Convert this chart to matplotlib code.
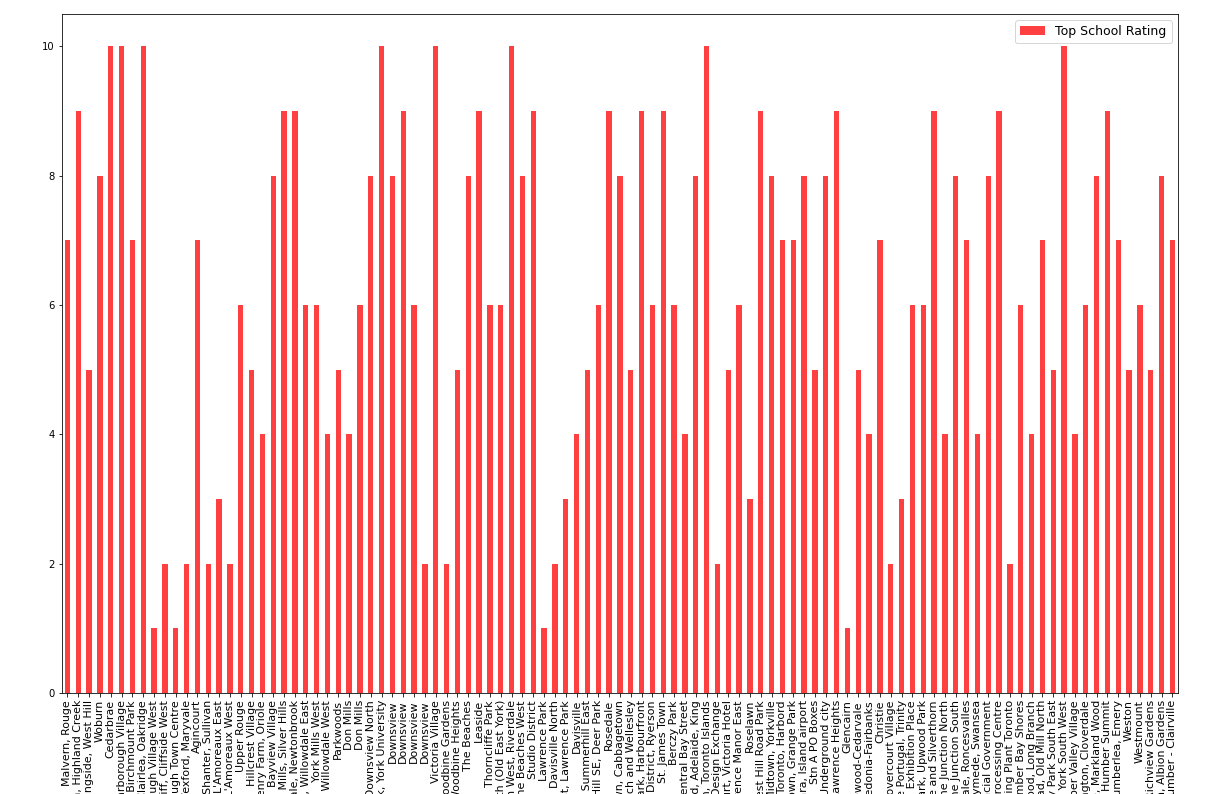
import pandas as pd
from matplotlib import pyplot as plt

# Toronto neighbourhoods (one per postal code) and their top school rating
neighborhoods = [
    'Malvern, Rouge', 'Rouge Hill, Port Union, Highland Creek', 'Guildwood, Morningside, West Hill',
    'Woburn', 'Cedarbrae', 'Scarborough Village', 'Kennedy Park, Ionview, East Birchmount Park',
    'Golden Mile, Clairlea, Oakridge', 'Cliffside, Cliffcrest, Scarborough Village West',
    'Birch Cliff, Cliffside West', 'Dorset Park, Wexford Heights, Scarborough Town Centre',
    'Wexford, Maryvale', 'Agincourt', "Clarks Corners, Tam O'Shanter, Sullivan",
    "Milliken, Agincourt North, Steeles East, L'Amoreaux East", "Steeles West, L'Amoreaux West",
    'Upper Rouge', 'Hillcrest Village', 'Fairview, Henry Farm, Oriole', 'Bayview Village',
    'York Mills, Silver Hills', 'Willowdale, Newtonbrook', 'Willowdale, Willowdale East',
    'York Mills West', 'Willowdale, Willowdale West', 'Parkwoods', 'Don Mills', 'Don Mills',
    'Bathurst Manor, Wilson Heights, Downsview North', 'Northwood Park, York University',
    'Downsview', 'Downsview', 'Downsview', 'Downsview', 'Victoria Village',
    'Parkview Hill, Woodbine Gardens', 'Woodbine Heights', 'The Beaches', 'Leaside',
    'Thorncliffe Park', 'East Toronto, Broadview North (Old East York)',
    'The Danforth West, Riverdale', 'India Bazaar, The Beaches West', 'Studio District',
    'Lawrence Park', 'Davisville North', 'North Toronto West, Lawrence Park', 'Davisville',
    'Moore Park, Summerhill East',
    'Summerhill West, Rathnelly, South Hill, Forest Hill SE, Deer Park', 'Rosedale',
    'St. James Town, Cabbagetown', 'Church and Wellesley', 'Regent Park, Harbourfront',
    'Garden District, Ryerson', 'St. James Town', 'Berczy Park', 'Central Bay Street',
    'Richmond, Adelaide, King', 'Harbourfront East, Union Station, Toronto Islands',
    'Toronto Dominion Centre, Design Exchange', 'Commerce Court, Victoria Hotel',
    'Bedford Park, Lawrence Manor East', 'Roselawn',
    'Forest Hill North & West, Forest Hill Road Park', 'The Annex, North Midtown, Yorkville',
    'University of Toronto, Harbord', 'Kensington Market, Chinatown, Grange Park',
    'CN Tower, King and Spadina, Railway Lands, Harbourfront West, Bathurst Quay, South Niagara, Island airport',
    'Stn A PO Boxes', 'First Canadian Place, Underground city',
    'Lawrence Manor, Lawrence Heights', 'Glencairn', 'Humewood-Cedarvale',
    'Caledonia-Fairbanks', 'Christie', 'Dufferin, Dovercourt Village',
    'Little Portugal, Trinity', 'Brockton, Parkdale Village, Exhibition Place',
    'North Park, Maple Leaf Park, Upwood Park',
    'Del Ray, Mount Dennis, Keelsdale and Silverthorn', 'Runnymede, The Junction North',
    'High Park, The Junction South', 'Parkdale, Roncesvalles', 'Runnymede, Swansea',
    "Queen's Park, Ontario Provincial Government", 'Canada Post Gateway Processing Centre',
    'Business reply mail Processing Centre, South Central Letter Processing Plant Toronto',
    'New Toronto, Mimico South, Humber Bay Shores', 'Alderwood, Long Branch',
    'The Kingsway, Montgomery Road, Old Mill North',
    "Old Mill South, King's Mill Park, Sunnylea, Humber Bay, Mimico NE, The Queensway East, Royal York South East, Kingsway Park South East",
    'Mimico NW, The Queensway West, South of Bloor, Kingsway Park South West, Royal York South West',
    'Islington Avenue, Humber Valley Village',
    'West Deane Park, Princess Gardens, Martin Grove, Islington, Cloverdale',
    'Eringate, Bloordale Gardens, Old Burnhamthorpe, Markland Wood', 'Humber Summit',
    'Humberlea, Emery', 'Weston', 'Westmount',
    'Kingsview Village, St. Phillips, Martin Grove Gardens, Richview Gardens',
    'South Steeles, Silverstone, Humbergate, Jamestown, Mount Olive, Beaumond Heights, Thistletown, Albion Gardens',
    'Northwest, West Humber - Clairville',
]

ratings = [
    7, 9, 5, 8, 10, 10, 7, 10, 1, 2,
    1, 2, 7, 2, 3, 2, 6, 5, 4, 8,
    9, 9, 6, 6, 4, 5, 4, 6, 8, 10,
    8, 9, 6, 2, 10, 2, 5, 8, 9, 6,
    6, 10, 8, 9, 1, 2, 3, 4, 5, 6,
    9, 8, 5, 9, 6, 9, 6, 4, 8, 10,
    2, 5, 6, 3, 9, 8, 7, 7, 8, 5,
    8, 9, 1, 5, 4, 7, 2, 3, 6, 6,
    9, 4, 8, 7, 4, 8, 9, 2, 6, 4,
    7, 5, 10, 4, 6, 8, 9, 7, 5, 6,
    5, 8, 7,
]

df = pd.DataFrame({'Top School Rating': ratings}, index=neighborhoods)

fig = plt.figure(figsize=(1232 / 72, 794 / 72), dpi=72)
ax = fig.add_axes([0.0503, 0.1272, 0.9057, 0.8552])
df.plot(kind='bar', ax=ax, color='red', alpha=0.75)
ax.tick_params(axis='x', labelsize=11)
# the long names run off the bottom of the figure, as in the notebook screenshot
ax.legend(loc='upper right', fontsize=12.5)

fig.savefig('out.png', dpi=72)
